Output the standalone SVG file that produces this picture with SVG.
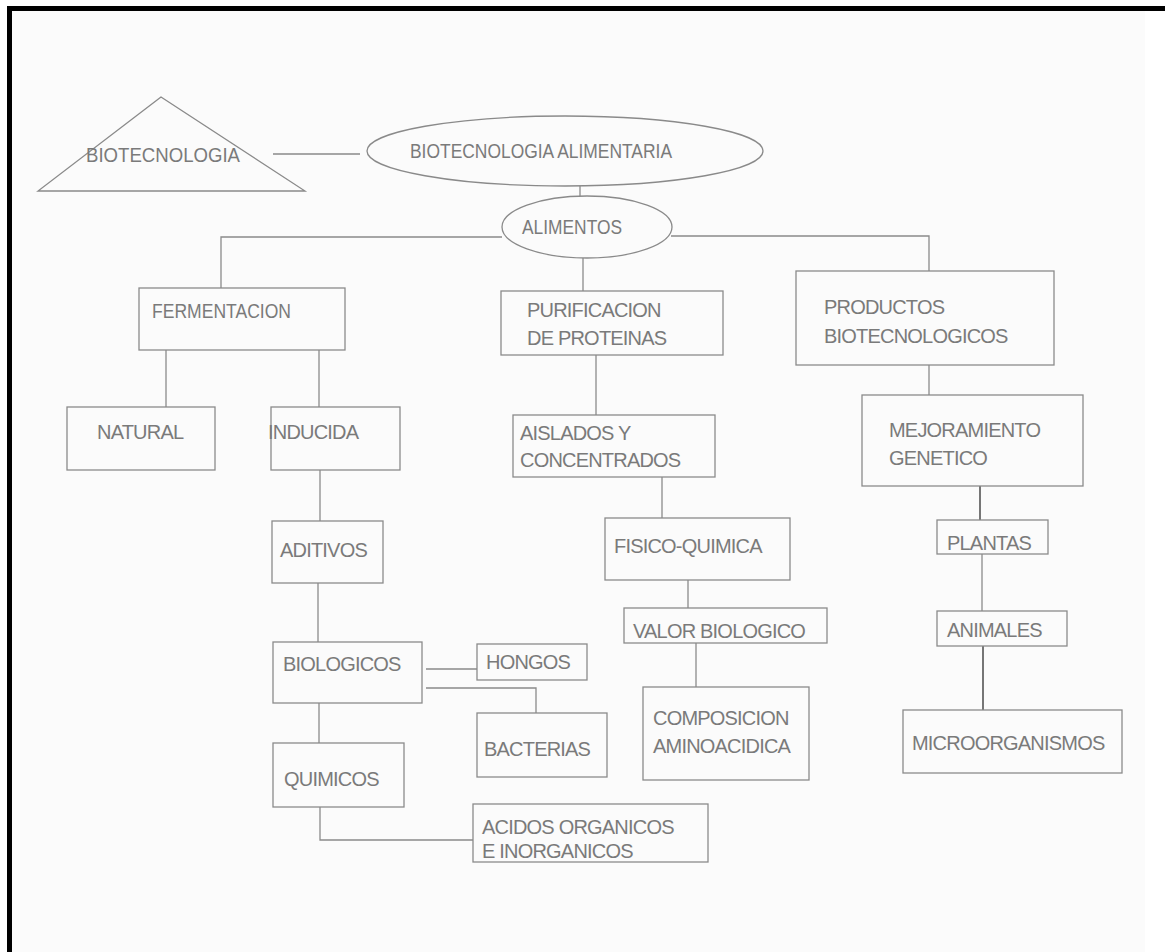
<svg xmlns="http://www.w3.org/2000/svg" width="1165" height="952" viewBox="0 0 1165 952">
<style>
.bx{fill:none;stroke:#8a8a8a;stroke-width:1.3}
.t{font-family:"Liberation Sans",Arial,sans-serif;font-size:20px;fill:#7a7a7a;letter-spacing:-0.8px}
.t0{letter-spacing:0px}
.c{fill:none;stroke:#8a8a8a;stroke-width:1.3}
.cd{fill:none;stroke:#555;stroke-width:1.6}
</style>
<rect x="0" y="0" width="1165" height="952" fill="#ffffff"/>
<rect x="12" y="11" width="1133" height="941" fill="#fbfbfb"/>
<rect x="7" y="6" width="1158" height="5" fill="#000"/>
<rect x="7" y="6" width="5" height="946" fill="#000"/>

<g id="connectors">
<line class="c" x1="273" y1="154" x2="360" y2="154"/>
<line class="c" x1="580" y1="186" x2="580" y2="196"/>
<polyline class="c" points="502,237 221,237 221,288"/>
<polyline class="c" points="671,236 929,236 929,271"/>
<line class="c" x1="583" y1="258" x2="583" y2="291"/>
<line class="c" x1="166" y1="350" x2="166" y2="407"/>
<line class="c" x1="319" y1="350" x2="319" y2="407"/>
<line class="c" x1="320" y1="470" x2="320" y2="521"/>
<line class="c" x1="318" y1="583" x2="318" y2="642"/>
<line class="c" x1="426" y1="669" x2="477" y2="669"/>
<polyline class="c" points="426,688 536,688 536,713"/>
<line class="c" x1="319" y1="703" x2="319" y2="743"/>
<polyline class="c" points="320,807 320,840 473,840"/>
<line class="c" x1="596" y1="355" x2="596" y2="415"/>
<line class="c" x1="662" y1="477" x2="662" y2="518"/>
<line class="c" x1="688" y1="580" x2="688" y2="608"/>
<line class="c" x1="696" y1="643" x2="696" y2="687"/>
<line class="c" x1="929" y1="365" x2="929" y2="395"/>
<line class="cd" x1="980" y1="486" x2="980" y2="520"/>
<line class="c" x1="982" y1="554" x2="982" y2="611"/>
<line class="cd" x1="983" y1="646" x2="983" y2="710"/>
</g>

<g id="biotecnologia">
<polygon class="bx" points="161,97 38,191 305,191"/>
<text class="t t0" x="86" y="162" textLength="154" lengthAdjust="spacingAndGlyphs">BIOTECNOLOGIA</text>
</g>
<g id="biotecnologia-alimentaria">
<ellipse class="bx" cx="565" cy="151" rx="198" ry="35"/>
<text class="t t0" x="410" y="158" textLength="262" lengthAdjust="spacingAndGlyphs">BIOTECNOLOGIA ALIMENTARIA</text>
</g>
<g id="alimentos">
<ellipse class="bx" cx="587" cy="227" rx="85" ry="31"/>
<text class="t t0" x="522" y="234" textLength="100" lengthAdjust="spacingAndGlyphs">ALIMENTOS</text>
</g>
<g id="fermentacion">
<rect class="bx" x="139" y="288" width="206" height="62"/>
<text class="t t0" x="152" y="318" textLength="139" lengthAdjust="spacingAndGlyphs">FERMENTACION</text>
</g>
<g id="purificacion">
<rect class="bx" x="501" y="291" width="222" height="64"/>
<text class="t" x="527" y="317">PURIFICACION</text>
<text class="t" x="527" y="345">DE PROTEINAS</text>
</g>
<g id="productos">
<rect class="bx" x="796" y="271" width="258" height="94"/>
<text class="t" x="824" y="314">PRODUCTOS</text>
<text class="t" x="824" y="343">BIOTECNOLOGICOS</text>
</g>
<g id="natural">
<rect class="bx" x="67" y="407" width="148" height="63"/>
<text class="t" x="97" y="439">NATURAL</text>
</g>
<g id="inducida">
<rect class="bx" x="271" y="407" width="129" height="63"/>
<text class="t" x="268" y="439">INDUCIDA</text>
</g>
<g id="aislados">
<rect class="bx" x="513" y="415" width="202" height="62"/>
<text class="t" x="520" y="440">AISLADOS Y</text>
<text class="t" x="520" y="467">CONCENTRADOS</text>
</g>
<g id="mejoramiento">
<rect class="bx" x="862" y="395" width="221" height="91"/>
<text class="t" x="889" y="437">MEJORAMIENTO</text>
<text class="t" x="889" y="465">GENETICO</text>
</g>
<g id="aditivos">
<rect class="bx" x="272" y="521" width="111" height="62"/>
<text class="t" x="280" y="557">ADITIVOS</text>
</g>
<g id="fisico-quimica">
<rect class="bx" x="605" y="518" width="185" height="62"/>
<text class="t" x="614" y="553">FISICO-QUIMICA</text>
</g>
<g id="plantas">
<rect class="bx" x="937" y="520" width="111" height="34"/>
<text class="t" x="947" y="550">PLANTAS</text>
</g>
<g id="valor-biologico">
<rect class="bx" x="624" y="608" width="203" height="35"/>
<text class="t" x="633" y="638">VALOR BIOLOGICO</text>
</g>
<g id="animales">
<rect class="bx" x="937" y="611" width="130" height="35"/>
<text class="t" x="947" y="637">ANIMALES</text>
</g>
<g id="biologicos">
<rect class="bx" x="273" y="642" width="149" height="61"/>
<text class="t" x="283" y="671">BIOLOGICOS</text>
</g>
<g id="hongos">
<rect class="bx" x="477" y="644" width="110" height="36"/>
<text class="t" x="486" y="669">HONGOS</text>
</g>
<g id="bacterias">
<rect class="bx" x="477" y="713" width="130" height="64"/>
<text class="t" x="484" y="756">BACTERIAS</text>
</g>
<g id="composicion">
<rect class="bx" x="643" y="687" width="166" height="93"/>
<text class="t" x="653" y="725">COMPOSICION</text>
<text class="t" x="653" y="753">AMINOACIDICA</text>
</g>
<g id="microorganismos">
<rect class="bx" x="903" y="710" width="219" height="63"/>
<text class="t" x="912" y="750">MICROORGANISMOS</text>
</g>
<g id="quimicos">
<rect class="bx" x="273" y="743" width="131" height="64"/>
<text class="t" x="284" y="786">QUIMICOS</text>
</g>
<g id="acidos">
<rect class="bx" x="473" y="804" width="235" height="58"/>
<text class="t" x="482" y="834">ACIDOS ORGANICOS</text>
<text class="t" x="482" y="858">E INORGANICOS</text>
</g>
</svg>
